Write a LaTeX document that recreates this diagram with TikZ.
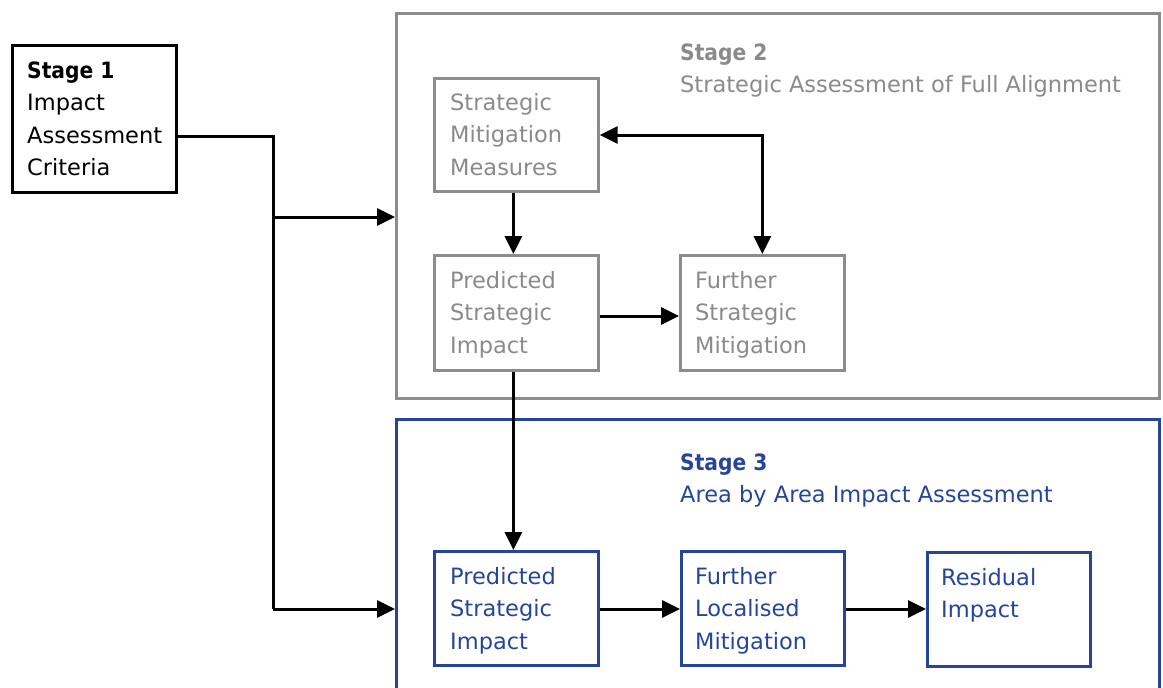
\documentclass[tikz,border=0pt]{standalone}
\usepackage{fontspec}
\setmainfont{DejaVu Sans}[BoldFeatures={FakeStretch=0.9}]
\usetikzlibrary{arrows.meta}
\definecolor{gtxt}{HTML}{8A8A8A}
\definecolor{gline}{HTML}{8C8C8C}
\definecolor{bl}{HTML}{26459A}
\begin{document}
\begin{tikzpicture}[x=1pt,y=-1pt,
  frame/.style={draw, line width=2.7pt, rectangle, anchor=north west, inner sep=0pt},
  smallbox/.style={frame, minimum width=164pt, minimum height=114pt},
  txt/.style={anchor=north west, inner sep=0pt, align=left, font=\fontsize{22.5}{32.5}\selectfont},
  conn/.style={line width=3pt, black},
  arr/.style={conn, -{Triangle[length=18pt,width=17pt]}},
  arrtwo/.style={conn, {Triangle[length=18pt,width=17pt]}-{Triangle[length=18pt,width=17pt]}}]
\useasboundingbox (0,0) rectangle (1163,688);

% stage containers
\node[frame, draw=gline, minimum width=763pt, minimum height=385pt] (stage2) at (395,12) {};
\node[frame, draw=bl, minimum width=763pt, minimum height=290pt] (stage3) at (395,418) {};

% stage 1
\node[frame, draw=black, minimum width=164pt, minimum height=147pt] (s1) at (11,44) {};
\node[txt, text=black] (s1t) at (27,55.25) {\strut\textbf{Stage 1}\\Impact\\Assessment\\Criteria};

% stage 2 heading and boxes
\node[txt, text=gtxt] (s2t) at (680,37.25) {\strut\textbf{Stage 2}\\Strategic Assessment of Full Alignment};
\node[smallbox, draw=gline, minimum height=113pt] (smm) at (433,77) {};
\node[txt, text=gtxt] (smmt) at (450,87.25) {\strut Strategic\\Mitigation\\Measures};
\node[smallbox, draw=gline, minimum height=115pt] (psig) at (433,254) {};
\node[txt, text=gtxt] (psigt) at (450,265.25) {\strut Predicted\\Strategic\\Impact};
\node[smallbox, draw=gline, minimum height=115pt] (fsm) at (679,254) {};
\node[txt, text=gtxt] (fsmt) at (695,265.25) {\strut Further\\Strategic\\Mitigation};

% stage 3 heading and boxes
\node[txt, text=bl] (s3t) at (680,447.25) {\strut\textbf{Stage 3}\\Area by Area Impact Assessment};
\node[smallbox, draw=bl] (psib) at (433,550) {};
\node[txt, text=bl] (psibt) at (450,561.25) {\strut Predicted\\Strategic\\Impact};
\node[smallbox, draw=bl, minimum width=163pt] (flm) at (680,550) {};
\node[txt, text=bl] (flmt) at (695,561.25) {\strut Further\\Localised\\Mitigation};
\node[smallbox, draw=bl, minimum width=163pt] (ri) at (926,551) {};
\node[txt, text=bl] (rit) at (941,562.25) {\strut Residual\\Impact};

% connectors
\coordinate (jtop) at (273,136);
\coordinate (jmid) at (273,217);
\coordinate (jbot) at (273,609);
\coordinate (rowg) at (0,316);
\coordinate (rowb) at (0,609);
\coordinate (rowt) at (0,135);
\draw[conn] (s1.east |- jtop) -- (jtop) -- (jbot);
\draw[arr] (jmid) -- (stage2.west |- jmid);
\draw[arr] (jbot) -- (stage3.west |- jbot);
\draw[arr] ([xshift=-3pt]smm.south) -- ([xshift=-3pt]psig.north);
\draw[arrtwo] (smm.east |- rowt) -| (fsm.north);
\draw[arr] (psig.east |- rowg) -- (fsm.west |- rowg);
\draw[arr] ([xshift=-3pt]psig.south) -- ([xshift=-3pt]psib.north);
\draw[arr] (psib.east |- rowb) -- (flm.west |- rowb);
\draw[arr] (flm.east |- rowb) -- (ri.west |- rowb);
\end{tikzpicture}
\end{document}
